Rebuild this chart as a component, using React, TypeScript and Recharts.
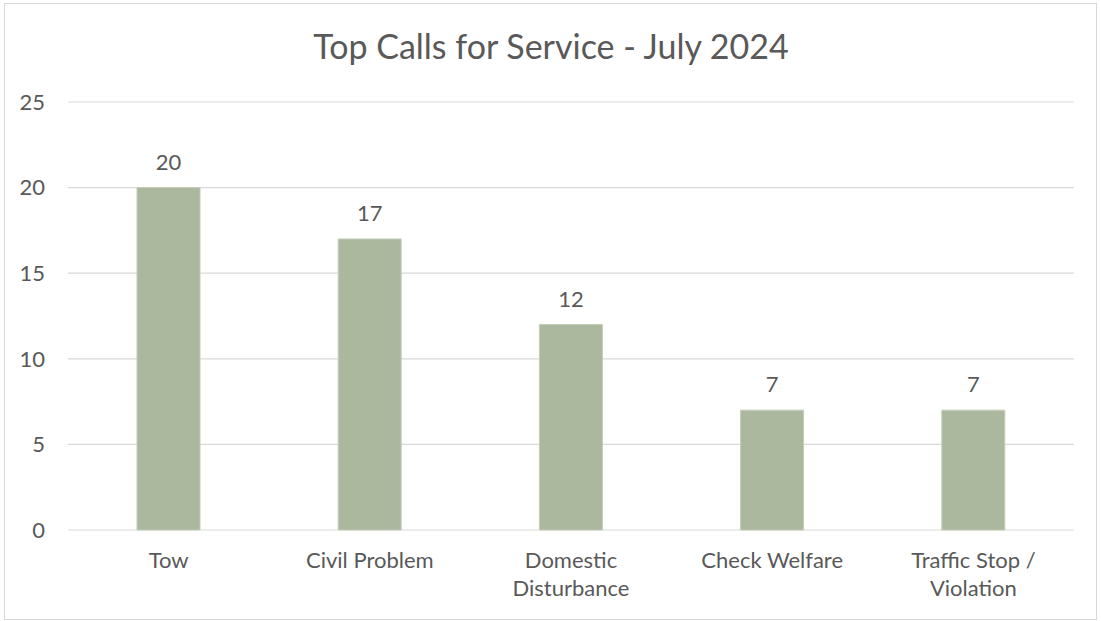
import React from "react";
import { BarChart, Bar, XAxis, YAxis, CartesianGrid, LabelList } from "recharts";

const categories = ["Tow", "Civil Problem", "Domestic Disturbance", "Check Welfare", "Traffic Stop / Violation"];
const tickLines = [["Tow"], ["Civil Problem"], ["Domestic", "Disturbance"], ["Check Welfare"], ["Traffic Stop /", "Violation"]];
const values = [20, 17, 12, 7, 7];
const yTicks = [0, 5, 10, 15, 20, 25];
const title = "Top Calls for Service - July 2024";

const data = categories.map((c, i) => ({ name: c, value: values[i], lines: tickLines[i] }));

const FONT = "Lato, 'Open Sans', sans-serif";
const TEXT = "#595959";

const XTick = (props: any) => {
  const { x, y, index } = props;
  const lines = tickLines[index] || [String(props.payload?.value)];
  return (
    <g>
      {lines.map((l: string, i: number) => (
        <text key={i} x={x} y={y + 38 + i * 28} textAnchor="middle" fill={TEXT} fontSize={22} fontFamily={FONT}>
          {l}
        </text>
      ))}
    </g>
  );
};

const ValueLabel = (props: any) => {
  const { x, y, width, value } = props;
  return (
    <text x={x + width / 2} y={y - 18} textAnchor="middle" fill={TEXT} fontSize={22} fontFamily={FONT}>
      {value}
    </text>
  );
};

export default function App() {
  return (
    <div style={{ position: "absolute", left: 0, top: 0, width: 1101, height: 621, background: "#fff" }}>
      <svg width={1101} height={621} style={{ position: "absolute", left: 0, top: 0 }}>
        <rect x={4.5} y={3.5} width={1092} height={616} fill="#fff" stroke="#D9D9D9" strokeWidth={1} />
        <text x={551} y={59} textAnchor="middle" fill={TEXT} fontSize={34} fontFamily={FONT}>
          {title}
        </text>
      </svg>
      <div style={{ position: "absolute", left: 0, top: 0 }}>
        <BarChart width={1101} height={621} data={data} margin={{ top: 102, right: 27, bottom: 31, left: 0 }}>
          <CartesianGrid vertical={false} stroke="#D9D9D9" strokeWidth={1.2} />
          <XAxis
            dataKey="name"
            height={60}
            axisLine={false}
            tickLine={false}
            tickSize={0}
            tickMargin={0}
            interval={0}
            tick={<XTick />}
          />
          <YAxis
            width={68}
            domain={[0, 25]}
            ticks={yTicks}
            axisLine={false}
            tickLine={false}
            tickSize={0}
            tickMargin={23}
            tick={{ fill: TEXT, fontSize: 22, fontFamily: FONT }}
          />
          <Bar dataKey="value" fill="#ABB89E" stroke="#C3CDB8" strokeWidth={1} barSize={63} isAnimationActive={false}>
            <LabelList dataKey="value" content={<ValueLabel />} />
          </Bar>
        </BarChart>
      </div>
    </div>
  );
}
